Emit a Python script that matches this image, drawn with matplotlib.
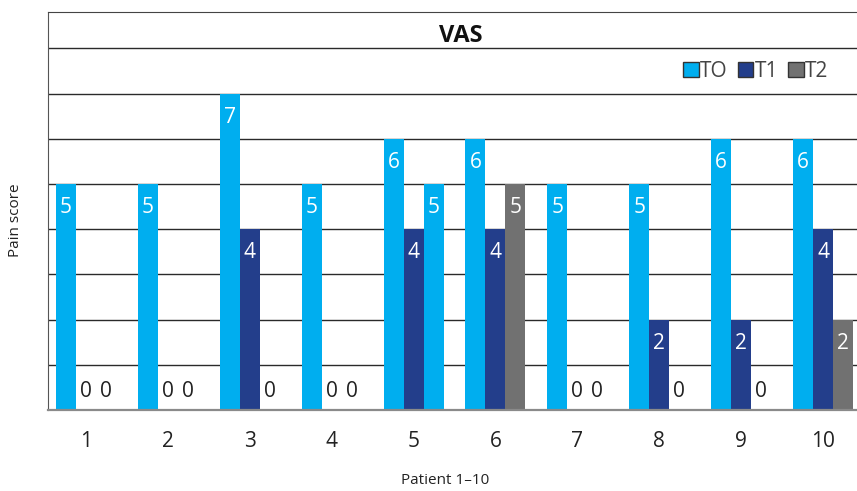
import matplotlib
matplotlib.use('Agg')
import matplotlib.pyplot as plt
import numpy as np

patients = ['1', '2', '3', '4', '5', '6', '7', '8', '9', '10']
series = ['TO', 'T1', 'T2']
t0 = [5, 5, 7, 5, 6, 6, 5, 5, 6, 6]
t1 = [0, 0, 4, 0, 4, 4, 0, 2, 2, 4]
t2 = [0, 0, 0, 0, 5, 5, 0, 0, 0, 2]

COLORS = ['#00AEEF', '#233E8B', '#717171']
FONT = ['Open Sans', 'DejaVu Sans']

plt.rcParams['font.family'] = FONT

fig = plt.figure(figsize=(8.57, 4.91), dpi=100)
ax = fig.add_axes([48 / 857., 81 / 491., 1 - 48 / 857., (410 - 11.7) / 491.])

x = np.arange(1, len(patients) + 1)
w = 0.244
all_vals = [t0, t1, t2]
for k, vals in enumerate(all_vals):
    xs = x + (k - 1) * w
    bars = ax.bar(xs, vals, w, color=COLORS[k], label=series[k], zorder=3,
                  linewidth=0)
    for xi, v in zip(xs, vals):
        if v > 0:
            ax.text(xi, v - 0.52, str(v), ha='center', va='center',
                    color='white', fontsize=15, zorder=4)
        else:
            ax.text(xi, 0.42, '0', ha='center', va='center',
                    color='#222222', fontsize=15, zorder=4)
    # the source paints patient 5's T2 bar in the T0 blue
    if k == 2:
        bars[4].set_color(COLORS[0])

ax.set_xlim(0.536, 10.415)
ax.set_ylim(0, 8.81)
ax.set_yticks(range(1, 9))
ax.set_yticklabels([])
ax.tick_params(axis='y', length=0)
ax.grid(axis='y', color='#2a2a2a', linewidth=1.0, zorder=0)
ax.set_xticks(x)
ax.set_xticklabels(patients, fontsize=15, color='#222222')
ax.tick_params(axis='x', length=0, pad=15)

ax.spines['right'].set_visible(False)
ax.spines['top'].set_color('#444444')
ax.spines['left'].set_color('#555555')
ax.spines['bottom'].set_color('#8a8a8a')
ax.spines['bottom'].set_linewidth(1.6)
ax.spines['bottom'].set_zorder(5)

ax.text(0.51, 0.94, 'VAS', transform=ax.transAxes, ha='center', va='center',
        fontsize=17, fontweight='bold', color='#111111')

leg = ax.legend(loc='center right', bbox_to_anchor=(0.975, 0.851), ncol=3,
                frameon=False, fontsize=15, handlelength=0.75, handleheight=0.75,
                handletextpad=0.05, columnspacing=0.5, borderaxespad=0)
for h in leg.legend_handles:
    h.set_edgecolor('#333333')
    h.set_linewidth(1.0)
for t in leg.get_texts():
    t.set_color('#444444')

fig.text(16 / 857., 1 - 220 / 491., 'Pain score', rotation=90, ha='center',
         va='center', fontsize=11, color='#222222')
fig.text(445 / 857., 1 - 481 / 491., 'Patient 1\u201310', ha='center',
         va='center', fontsize=11, color='#222222')

fig.savefig('out.png', dpi=100)
